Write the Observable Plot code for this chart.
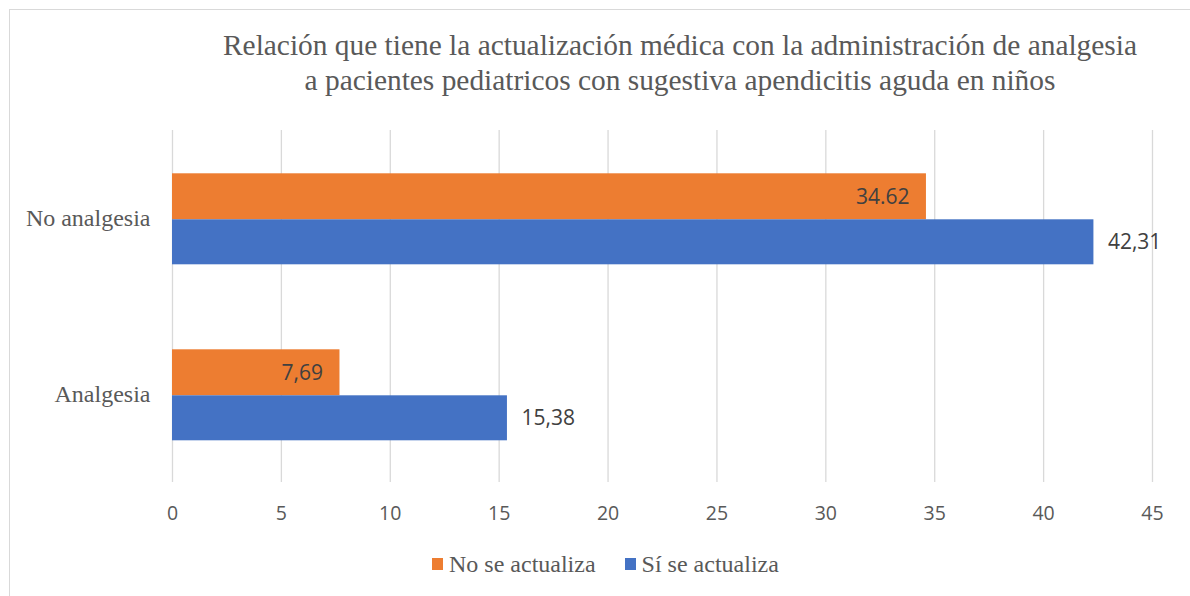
<!DOCTYPE html>
<html>
<head>
<meta charset="utf-8">
<script src="https://cdn.jsdelivr.net/npm/d3@7"></script>
<script src="https://cdn.jsdelivr.net/npm/@observablehq/plot@0.6"></script>
<style>
  body { margin: 0; background: #fff; width: 1190px; height: 596px; overflow: hidden; position: relative; }
  #frame { position: absolute; left: 9px; top: 9px; width: 1200px; height: 620px; border: 1px solid #d9d9d9; box-sizing: border-box; }
  #title { position: absolute; left: 170px; top: 28px; width: 1020px; text-align: center; font-family: "Liberation Serif", Tinos, "DejaVu Serif", serif; font-size: 29.4px; line-height: 35px; color: #595959; }
  #chart { position: absolute; left: 0; top: 100px; }
  #legend { position: absolute; left: 432px; top: 552px; display: flex; align-items: center; font-family: "Liberation Serif", Tinos, "DejaVu Serif", serif; font-size: 24px; line-height: 24px; color: #595959; }
  #legend .item { display: flex; align-items: center; margin-right: 29px; }
  #legend .sw { width: 11px; height: 12px; margin-right: 6px; }
</style>
</head>
<body>
<div id="frame"></div>
<div id="title">Relación que tiene la actualización médica con la administración de analgesia<br>a pacientes pediatricos con sugestiva apendicitis aguda en niños</div>
<div id="chart"></div>
<div id="legend"></div>
<script>
const categories = ["No analgesia", "Analgesia"];
const series = ["No se actualiza", "Sí se actualiza"];
const noSeActualiza = [34.62, 7.69];
const siSeActualiza = [42.31, 15.38];
const noLabels = ["34.62", "7,69"];
const siLabels = ["42,31", "15,38"];
const xTicks = [0, 5, 10, 15, 20, 25, 30, 35, 40, 45];
const colors = ["#ED7D31", "#4472C4"];

const rows = categories.map((c, i) => ({
  category: c,
  no: noSeActualiza[i],
  si: siSeActualiza[i],
  noLabel: noLabels[i],
  siLabel: siLabels[i]
}));

const serif = "'Liberation Serif', Tinos, 'DejaVu Serif', serif";

const chart = Plot.plot({
  width: 1190,
  height: 440,
  marginTop: 30,
  marginBottom: 58,
  marginLeft: 172,
  marginRight: 38,
  style: { fontFamily: "'Open Sans', sans-serif", color: "#595959", background: "transparent", overflow: "visible" },
  x: { domain: [0, 45], label: null },
  y: { domain: categories, padding: 0, round: false, label: null },
  marks: [
    Plot.ruleX(xTicks, { stroke: "#d9d9d9", strokeWidth: 1.3 }),
    Plot.barX(rows, { y: "category", x: "no", fill: colors[0], insetTop: 43.3, insetBottom: 86.7 }),
    Plot.barX(rows, { y: "category", x: "si", fill: colors[1], insetTop: 89.3, insetBottom: 41.7 }),
    Plot.text(rows, { y: "category", x: "no", text: "noLabel", textAnchor: "end", dx: -17, dy: -21.7, fontSize: 21, fill: "#404040", fontFamily: "'Open Sans', sans-serif" }),
    Plot.text(rows, { y: "category", x: "si", text: "siLabel", textAnchor: "start", dx: 14, dy: 23.8, fontSize: 21, fill: "#404040", fontFamily: "'Open Sans', sans-serif" }),
    Plot.axisX(xTicks, { tickSize: 0, tickPadding: 24, fontSize: 19.5, fill: "#595959", tickFormat: d => String(d), label: null }),
    Plot.axisY({ tickSize: 0, tickPadding: 22, fontSize: 24, fill: "#595959", fontFamily: serif, label: null })
  ]
});
document.getElementById("chart").appendChild(chart);

const legend = document.getElementById("legend");
series.forEach((s, i) => {
  const item = document.createElement("div");
  item.className = "item";
  const sw = document.createElement("div");
  sw.className = "sw";
  sw.style.background = colors[i];
  const t = document.createElement("span");
  t.textContent = s;
  item.appendChild(sw);
  item.appendChild(t);
  legend.appendChild(item);
});
</script>
</body>
</html>
